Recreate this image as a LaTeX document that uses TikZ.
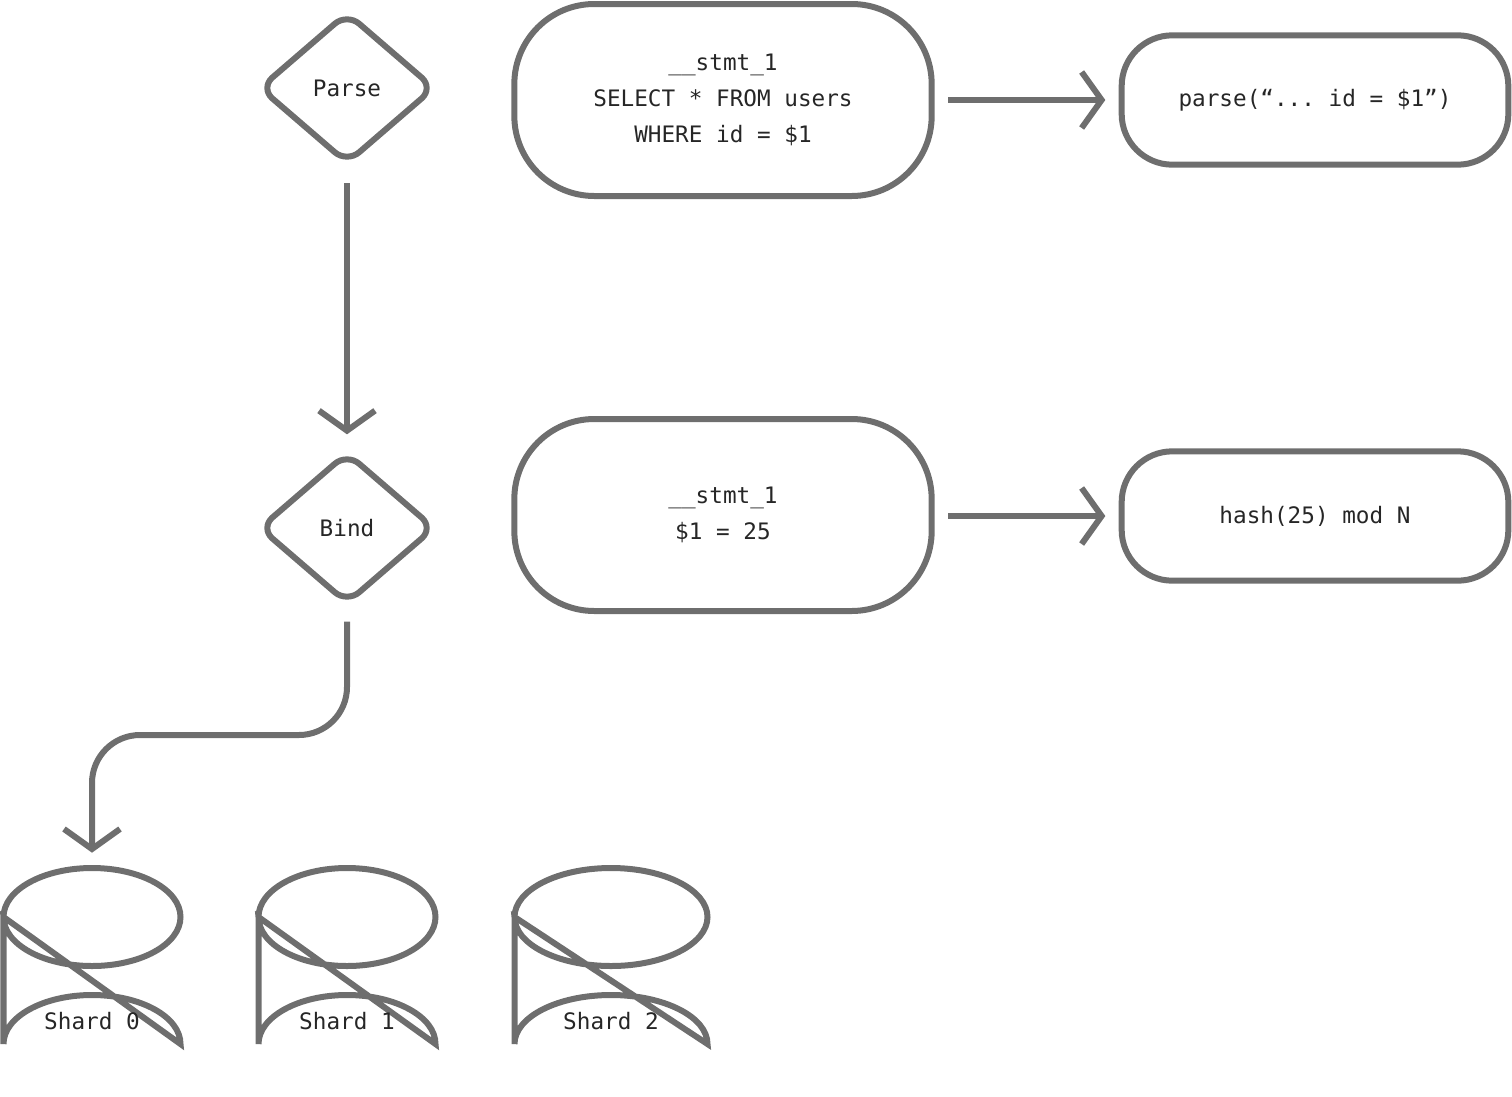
\documentclass[tikz,border=0pt]{standalone}
\usepackage{fontspec}
\setmonofont{DejaVu Sans Mono}
\usepackage{tikz}
\usetikzlibrary{arrows.meta, positioning, shapes.geometric}

\definecolor{linegray}{RGB}{110,110,110}

\tikzset{
  base/.style={draw=linegray, line width=4.5pt, font=\ttfamily\fontsize{17pt}{27pt}\selectfont, text=black!85, align=center},
  stepdiamond/.style={base, diamond, rounded corners=12pt, minimum width=132pt, minimum height=114pt, inner sep=0pt},
  stmtbox/.style={base, rounded corners=60pt, minimum width=313pt, minimum height=144pt},
  resultbox/.style={base, rounded corners=38pt, minimum width=290pt, minimum height=97pt},
  flow/.style={draw=linegray, line width=4.5pt, -{Straight Barb[length=15pt, width=42pt, line width=4.5pt]}},
}

\begin{document}
\begin{tikzpicture}[x=0.75pt,y=0.75pt,yscale=-1,xscale=1]
\useasboundingbox (0,0) rectangle (1512,1096);

% steps
\node[stepdiamond] (parse) at (347,88) {Parse};
\node[stepdiamond] (bind) at (347,528) {Bind};

% statements
\node[stmtbox] (stmt1) at (723,100) {\_\_stmt\_1\\SELECT * FROM users\\WHERE id = \$1};
\node[stmtbox] (stmt2) at (723,515) {\_\_stmt\_1\\\$1 = 25};
\node[resultbox] (parsed) at (1315,100) {parse(“... id = \$1”)};
\node[resultbox] (hashed) at (1315,516) {hash(25) mod N};

% shards
\foreach \i/\x/\w in {0/92/177, 1/347/177, 2/611/193} {
  \draw[draw=linegray, line width=4.5pt]
    (\x-\w/2,917) arc[start angle=180, end angle=540, x radius=\w/2, y radius=49]
    -- (\x+\w/2,1044) arc[start angle=0, end angle=-180, x radius=\w/2, y radius=49] -- cycle;
  \node[font=\ttfamily\fontsize{17pt}{27pt}\selectfont, text=black!85] (shard\i) at (\x,1021) {Shard \i};
  \coordinate (top\i) at (\x,866);
}

% connectors
\draw[flow, shorten <=12pt, shorten >=11pt] (parse) -- (bind);
\draw[flow, shorten <=10pt, shorten >=10pt] (stmt1) -- (parsed);
\draw[flow, shorten <=10pt, shorten >=10pt] (stmt2.east |- hashed) -- (hashed);
\draw[flow, rounded corners=36pt, shorten <=11pt, shorten >=10pt]
  (bind.south) -- (347,735) -- (92,735) -- (top0);

\end{tikzpicture}
\end{document}
